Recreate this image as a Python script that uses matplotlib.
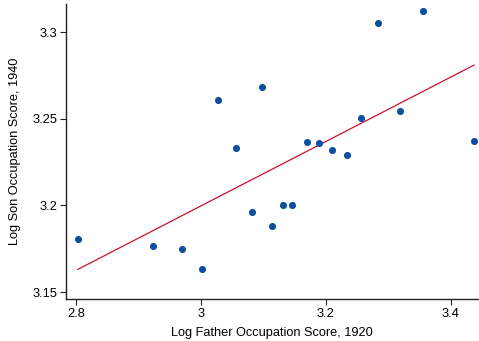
import numpy as np
import matplotlib
matplotlib.use("Agg")
import matplotlib.pyplot as plt

plt.rcParams["font.family"] = ["Liberation Sans", "DejaVu Sans"]

# ---------------------------------------------------------------------------
# Data
# ---------------------------------------------------------------------------
father_1920 = [2.803, 2.924, 2.969, 3.002, 3.028, 3.056, 3.097, 3.081, 3.114,
               3.131, 3.145, 3.169, 3.189, 3.210, 3.233, 3.256, 3.283, 3.318,
               3.355, 3.437]
son_1940 = [3.1805, 3.1768, 3.1749, 3.1633, 3.2608, 3.2330, 3.2685, 3.1964,
            3.1879, 3.2004, 3.2004, 3.2367, 3.2361, 3.2323, 3.2292, 3.2508,
            3.3055, 3.2546, 3.3123, 3.2370]

fit_x = [2.803, 3.437]
fit_y = [3.1631, 3.2811]

x_ticks = [2.8, 3.0, 3.2, 3.4]
x_ticklabels = ["2.8", "3", "3.2", "3.4"]
y_ticks = [3.15, 3.2, 3.25, 3.3]
y_ticklabels = ["3.15", "3.2", "3.25", "3.3"]

MARKER_COLOR = "#0b4f9e"
LINE_COLOR = "#c8102e"

# ---------------------------------------------------------------------------
# Plot
# ---------------------------------------------------------------------------
fig = plt.figure(figsize=(4.79, 3.41), dpi=100)
ax = fig.add_axes([65.7 / 479, 1 - 299.3 / 341, (479 - 65.7) / 479, (299.3 - 4) / 341])

ax.scatter(father_1920, son_1940, s=26, color=MARKER_COLOR, linewidths=0, zorder=3)
ax.plot(fit_x, fit_y, color=LINE_COLOR, linewidth=0.9, zorder=2)

ax.set_xlim(2.7835, 3.445)
ax.set_ylim(3.1458, 3.3164)
ax.set_xticks(x_ticks)
ax.set_xticklabels(x_ticklabels)
ax.set_yticks(y_ticks)
ax.set_yticklabels(y_ticklabels)

for side in ("top", "right"):
    ax.spines[side].set_visible(False)
for side in ("left", "bottom"):
    ax.spines[side].set_linewidth(1.0)
    ax.spines[side].set_color("#222222")

ax.tick_params(axis="both", direction="out", length=4, width=0.8,
               labelsize=9.3, color="#222222", pad=2)

ax.set_xlabel("Log Father Occupation Score, 1920", fontsize=9.2, labelpad=5)
ax.set_ylabel("Log Son Occupation Score, 1940", fontsize=9.2, labelpad=8)

fig.savefig("out.png", dpi=100)
plt.close(fig)
